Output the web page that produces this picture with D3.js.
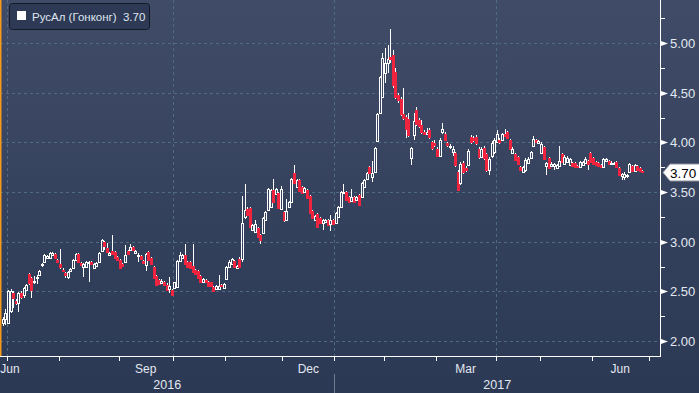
<!DOCTYPE html>
<html><head><meta charset="utf-8">
<script src="https://cdn.jsdelivr.net/npm/d3@7"></script>
<style>html,body{margin:0;padding:0;background:#2c3954;overflow:hidden}</style>
</head><body><svg id="c" width="699" height="393"></svg>
<script>
// ---- data ----
const seriesName = "РусАл (Гонконг)";
const lastLabel = "3.70";
const startDate = "2016-06-29";
const axisEndDate = "2017-06-30";
const holidays = ["2016-07-01","2016-09-16","2016-10-10","2016-12-26","2016-12-27","2017-01-02","2017-01-30","2017-01-31","2017-04-04","2017-04-14","2017-04-17","2017-05-01","2017-05-03","2017-05-30"];
const yTickValues = [2.0, 2.5, 3.0, 3.5, 4.0, 4.5, 5.0];
const yMinorValues = [2.25, 2.75, 3.25, 3.75, 4.25, 4.75, 5.25];
const monthNames = ["Jan","Feb","Mar","Apr","May","Jun","Jul","Aug","Sep","Oct","Nov","Dec"];
const labelledMonths = [2, 5, 8, 11];

const opens = [2.18,2.22,
2.18,2.30,2.48,2.40,2.38,2.48,2.46,2.51,2.68,2.64,2.60,2.64,2.67,2.77,2.80,2.84,2.84,2.87,2.88,2.82,
2.78,2.72,2.69,2.65,2.71,2.74,2.82,2.88,2.79,2.75,2.75,2.79,2.80,2.74,2.76,2.80,2.91,3.00,2.94,2.87,2.91,2.90,2.85,
2.82,2.78,2.80,2.91,2.92,2.95,2.89,2.86,2.86,2.81,2.77,2.90,2.84,2.75,2.66,2.62,2.58,2.60,2.56,2.52,2.51,
2.53,2.54,2.81,2.84,2.87,2.80,2.80,2.76,2.72,2.71,2.66,2.60,2.62,2.60,2.59,2.54,2.52,2.52,2.56,2.53,
2.63,2.75,2.78,2.81,2.74,2.83,2.83,3.25,3.33,3.34,3.12,3.10,3.14,3.07,3.09,3.22,3.32,3.35,3.52,3.48,3.49,3.33,
3.30,3.22,3.35,3.40,3.69,3.55,3.62,3.55,3.50,3.52,3.46,3.31,3.22,3.28,3.24,3.19,3.20,3.22,3.18,3.22,
3.19,3.25,3.35,3.49,3.50,3.45,3.41,3.45,3.42,3.47,3.45,3.55,3.63,3.75,3.65,3.70,4.01,4.30,4.46,
4.70,4.80,4.86,4.88,4.71,4.48,4.44,4.29,4.26,4.24,3.84,4.07,4.33,4.23,4.18,4.11,4.09,4.13,4.00,3.99,
3.93,3.86,4.11,4.09,3.99,3.95,3.90,3.89,3.70,3.59,3.79,3.74,3.77,4.05,4.04,4.05,3.93,3.85,3.94,3.88,3.72,3.86,3.90,
4.00,4.02,4.02,4.08,4.11,4.02,3.89,3.88,3.85,3.75,3.70,3.72,3.79,3.84,3.96,4.02,3.99,
3.89,3.95,3.76,3.84,3.76,3.76,3.74,3.76,3.88,3.78,3.80,3.77,3.79,3.79,3.76,3.75,3.77,3.79,3.81,3.89,
3.84,3.80,3.79,3.77,3.75,3.81,3.81,3.785,3.785,3.80,3.74,3.66,3.65,3.66,3.70,3.76,3.71,3.76,3.74,3.71];
const highs = [2.24,2.32,
2.51,2.52,2.50,2.42,2.49,2.50,2.54,2.57,2.69,2.65,2.66,2.67,2.72,2.79,2.88,2.87,2.90,2.90,2.89,2.83,
2.93,2.74,2.70,2.71,2.74,2.83,2.89,2.89,2.80,2.79,2.81,2.81,2.81,2.79,2.80,2.90,3.03,3.01,2.99,2.90,3.07,2.91,2.86,
2.83,2.79,2.97,2.92,2.98,2.96,2.92,2.89,2.87,2.82,2.89,2.91,2.85,2.76,2.67,2.63,2.63,2.61,2.58,2.65,2.52,
2.60,2.82,2.90,2.88,2.98,2.81,2.81,2.98,2.73,2.72,2.67,2.64,2.63,2.61,2.60,2.55,2.56,2.67,2.57,2.58,
2.76,2.82,2.84,2.82,2.77,2.85,3.46,3.58,3.35,3.35,3.18,3.22,3.15,3.08,3.25,3.31,3.54,3.53,3.63,3.54,3.50,3.56,
3.31,3.43,3.41,3.64,3.77,3.63,3.63,3.56,3.55,3.53,3.47,3.32,3.27,3.29,3.25,3.23,3.23,3.23,3.27,3.23,
3.30,3.36,3.51,3.58,3.51,3.46,3.53,3.46,3.46,3.48,3.60,3.63,3.70,3.76,3.81,3.95,4.30,4.67,4.90,
4.95,4.98,5.14,4.93,4.75,4.50,4.46,4.55,4.28,4.30,3.95,4.30,4.36,4.25,4.23,4.13,4.15,4.15,4.01,4.02,
3.95,4.04,4.20,4.11,4.00,3.98,3.96,3.90,3.72,3.80,3.81,3.76,3.93,4.07,4.06,4.07,3.95,3.95,3.96,3.89,3.85,4.01,4.04,
4.13,4.04,4.10,4.14,4.12,4.03,3.95,3.89,3.86,3.76,3.76,3.84,3.85,3.91,4.06,4.03,4.02,
4.00,3.96,3.80,3.85,3.80,3.79,3.78,3.96,3.89,3.87,3.86,3.84,3.80,3.80,3.77,3.81,3.81,3.85,3.82,3.90,
3.85,3.81,3.80,3.78,3.84,3.84,3.82,3.81,3.80,3.81,3.75,3.69,3.70,3.68,3.79,3.77,3.78,3.77,3.75,3.72];
const lows = [2.15,2.16,
2.17,2.28,2.33,2.36,2.29,2.42,2.43,2.50,2.56,2.43,2.57,2.57,2.66,2.75,2.79,2.83,2.83,2.86,2.83,2.79,
2.73,2.70,2.64,2.63,2.70,2.73,2.81,2.79,2.76,2.65,2.74,2.60,2.77,2.73,2.75,2.79,2.90,2.92,2.89,2.86,2.87,2.83,2.81,
2.73,2.75,2.79,2.87,2.91,2.91,2.88,2.80,2.82,2.78,2.71,2.81,2.77,2.63,2.55,2.56,2.57,2.55,2.50,2.48,2.45,
2.52,2.53,2.80,2.83,2.77,2.74,2.73,2.69,2.67,2.63,2.58,2.59,2.59,2.54,2.54,2.49,2.51,2.51,2.54,2.52,
2.62,2.74,2.77,2.74,2.73,2.74,2.80,3.23,3.26,3.14,3.11,3.09,3.04,2.98,3.08,3.21,3.31,3.34,3.39,3.47,3.33,3.32,
3.20,3.21,3.34,3.39,3.58,3.54,3.50,3.48,3.49,3.43,3.28,3.23,3.21,3.14,3.18,3.12,3.19,3.16,3.11,3.17,
3.18,3.24,3.34,3.48,3.41,3.39,3.40,3.39,3.41,3.36,3.44,3.54,3.62,3.68,3.60,3.69,4.00,4.29,4.45,
4.60,4.70,4.80,4.55,4.44,4.40,4.27,4.23,4.04,4.05,3.77,4.02,4.17,4.15,4.09,4.08,4.08,4.03,3.92,3.95,
3.85,3.85,4.09,4.01,3.95,3.93,3.86,3.75,3.51,3.57,3.68,3.70,3.76,3.98,4.00,3.97,3.83,3.84,3.82,3.70,3.67,3.84,3.88,
3.99,3.98,4.01,4.05,4.03,3.92,3.88,3.81,3.77,3.71,3.69,3.70,3.78,3.83,3.95,3.99,3.98,
3.88,3.82,3.67,3.73,3.75,3.72,3.73,3.75,3.79,3.77,3.79,3.76,3.75,3.74,3.74,3.74,3.76,3.78,3.72,3.79,
3.77,3.76,3.75,3.74,3.74,3.80,3.77,3.77,3.78,3.74,3.66,3.62,3.62,3.64,3.69,3.70,3.70,3.71,3.70,3.69];
const closes = [2.22,2.28,
2.50,2.50,2.43,2.38,2.48,2.44,2.53,2.56,2.58,2.51,2.61,2.65,2.71,2.78,2.87,2.86,2.89,2.89,2.84,2.80,
2.75,2.71,2.67,2.70,2.73,2.82,2.88,2.80,2.77,2.78,2.80,2.80,2.78,2.78,2.79,2.89,3.02,2.96,2.90,2.89,2.88,2.84,2.82,
2.74,2.76,2.87,2.88,2.95,2.92,2.91,2.87,2.83,2.79,2.88,2.82,2.78,2.64,2.56,2.57,2.61,2.56,2.51,2.55,2.46,
2.59,2.81,2.87,2.87,2.78,2.75,2.74,2.70,2.68,2.64,2.59,2.63,2.60,2.55,2.55,2.50,2.55,2.55,2.55,2.57,
2.75,2.80,2.83,2.75,2.76,2.75,3.19,3.32,3.27,3.15,3.17,3.18,3.05,3.02,3.24,3.30,3.53,3.52,3.40,3.53,3.34,3.53,
3.22,3.31,3.40,3.63,3.59,3.62,3.51,3.49,3.54,3.44,3.29,3.24,3.26,3.15,3.19,3.22,3.22,3.17,3.22,3.18,
3.29,3.35,3.50,3.50,3.42,3.40,3.45,3.40,3.45,3.37,3.59,3.62,3.69,3.69,3.69,3.94,4.29,4.66,4.85,
4.80,4.84,4.84,4.58,4.46,4.43,4.29,4.25,4.14,4.07,3.94,4.22,4.19,4.17,4.11,4.09,4.11,4.05,3.94,3.97,
3.86,4.02,4.14,4.02,3.97,3.96,3.93,3.77,3.52,3.78,3.70,3.72,3.91,4.00,4.02,3.99,3.85,3.93,3.84,3.72,3.83,3.99,4.02,
4.09,4.00,4.08,4.06,4.04,3.93,3.93,3.82,3.78,3.72,3.75,3.82,3.83,3.90,4.03,4.00,4.01,
3.98,3.83,3.79,3.74,3.78,3.78,3.77,3.81,3.80,3.85,3.84,3.83,3.76,3.75,3.75,3.80,3.80,3.83,3.78,3.80,
3.78,3.77,3.76,3.75,3.83,3.83,3.78,3.79,3.79,3.75,3.67,3.68,3.68,3.67,3.78,3.71,3.77,3.72,3.71,3.70];

// ---- trading calendar ----
const hol = new Set(holidays);
const dates = [];
for (let d = new Date(startDate + "T00:00:00Z"); d <= new Date(axisEndDate + "T00:00:00Z"); d.setUTCDate(d.getUTCDate() + 1)) {
  const wd = d.getUTCDay();
  const s = d.toISOString().slice(0, 10);
  if (wd > 0 && wd < 6 && !hol.has(s)) dates.push(s);
}
const candles = closes.map((c, i) => ({i, o: opens[i], h: highs[i], l: lows[i], c}));

// ---- layout ----
const W = 699, H = 393, plotR = 660, plotB = 356;
const svg = d3.select("#c");
const x = d3.scaleLinear().domain([0, candles.length - 1]).range([2.8, 642.4]);
const y = d3.scaleLinear().domain([1.85, 5.434]).range([plotB, 0]);

const defs = svg.append("defs");
const g = defs.append("linearGradient").attr("id", "bg").attr("x1", 0).attr("y1", 0).attr("x2", 0).attr("y2", 1);
[[0, "#3f4b67"], [0.3, "#3a4662"], [0.6, "#33405b"], [1, "#2c3954"]].forEach(([o, c]) => g.append("stop").attr("offset", o).attr("stop-color", c));
defs.append("clipPath").attr("id", "clip").append("rect").attr("x", 0).attr("y", 0).attr("width", plotR).attr("height", plotB);

svg.append("rect").attr("width", W).attr("height", H).attr("fill", "url(#bg)");

// month boundaries
const bounds = [];
for (let i = 1; i < dates.length; i++) {
  if (dates[i].slice(5, 7) !== dates[i - 1].slice(5, 7)) bounds.push({i, m: +dates[i].slice(5, 7) - 1, yr: +dates[i].slice(0, 4)});
}
const gridCol = "#4f6b84";

// horizontal grid
svg.append("g").selectAll("line").data(yTickValues).join("line")
  .attr("x1", 0).attr("x2", plotR).attr("y1", d => Math.round(y(d)) + 0.5).attr("y2", d => Math.round(y(d)) + 0.5)
  .attr("stroke", gridCol).attr("stroke-width", 1).attr("stroke-dasharray", "3,3");
// vertical quarter grid
const qb = bounds.filter(b => b.m % 3 === 0);
svg.append("g").selectAll("line").data(qb).join("line")
  .attr("x1", b => Math.round(x(b.i - 0.5)) + 0.5).attr("x2", b => Math.round(x(b.i - 0.5)) + 0.5)
  .attr("y1", 0).attr("y2", plotB)
  .attr("stroke", gridCol).attr("stroke-width", 1).attr("stroke-dasharray", "3,3");

// candles
const cg = svg.append("g").attr("clip-path", "url(#clip)");
const red = "#f0243f";
candles.forEach(d => {
  const cx = Math.round(x(d.i));
  const yt = Math.round(y(Math.max(d.o, d.c)));
  const yb = Math.round(y(Math.min(d.o, d.c)));
  const yh = Math.round(y(d.h)), yl = Math.round(y(d.l));
  const up = d.c >= d.o;
  if (yh < yt) cg.append("line").attr("x1", cx + 0.5).attr("x2", cx + 0.5).attr("y1", yh).attr("y2", yt).attr("stroke", "#fff");
  if (yl > yb) cg.append("line").attr("x1", cx + 0.5).attr("x2", cx + 0.5).attr("y1", yb).attr("y2", yl).attr("stroke", "#fff");
  if (up) {
    cg.append("rect").attr("x", cx - 0.5).attr("y", yt + 0.5).attr("width", 2).attr("height", Math.max(1, yb - yt))
      .attr("fill", "none").attr("stroke", "#fff").attr("stroke-width", 1);
  } else {
    cg.append("rect").attr("x", cx - 1).attr("y", yt).attr("width", 3).attr("height", Math.max(1, yb - yt + 1))
      .attr("fill", red);
  }
});

// axes lines
svg.append("line").attr("x1", plotR + 0.5).attr("x2", plotR + 0.5).attr("y1", 0).attr("y2", plotB + 1).attr("stroke", "#fff");
svg.append("line").attr("x1", 0).attr("x2", plotR + 1).attr("y1", plotB + 0.5).attr("y2", plotB + 0.5).attr("stroke", "#fff");

// y ticks
const yt = svg.append("g");
yTickValues.forEach(v => {
  const yy = Math.round(y(v)) + 0.5;
  yt.append("path").attr("d", `M${plotR + 1},${yy - 2.5}L${plotR + 8},${yy}L${plotR + 1},${yy + 2.5}Z`).attr("fill", "#fff");
  yt.append("text").attr("x", 670).attr("y", yy + 4.5).text(v.toFixed(2))
    .attr("fill", "#e2e8f1").attr("font-family", "Liberation Sans, Arial, sans-serif").attr("font-size", 13);
});
yMinorValues.forEach(v => {
  const yy = Math.round(y(v)) + 0.5;
  yt.append("line").attr("x1", plotR).attr("x2", plotR + 5).attr("y1", yy).attr("y2", yy).attr("stroke", "#fff");
});

// x ticks & labels
const xt = svg.append("g");
bounds.concat([{i: dates.length, m: 6, yr: 2017}]).forEach(b => {
  const xx = Math.round(x(b.i - 0.5)) + 0.5;
  xt.append("line").attr("x1", xx).attr("x2", xx).attr("y1", plotB).attr("y2", plotB + 5).attr("stroke", "#fff");
});
const segs = [{s: -0.5, m: +dates[0].slice(5, 7) - 1}];
bounds.forEach(b => segs.push({s: b.i - 0.5, m: b.m}));
segs.forEach((sg, k) => { sg.e = k + 1 < segs.length ? segs[k + 1].s : dates.length - 0.5; });
segs.filter(sg => labelledMonths.includes(sg.m)).forEach(sg => {
  let cx = (x(sg.s) + x(sg.e)) / 2;
  cx = Math.max(cx, 10);
  xt.append("text").attr("x", cx).attr("y", 373).attr("text-anchor", "middle").text(monthNames[sg.m])
    .attr("fill", "#e2e8f1").attr("font-family", "Liberation Sans, Arial, sans-serif").attr("font-size", 12);
});
const yb0 = bounds.find(b => b.m === 0);
const yearX = Math.round(x(yb0.i - 0.5)) + 0.5;
xt.append("line").attr("x1", yearX).attr("x2", yearX).attr("y1", 374).attr("y2", H).attr("stroke", "#6f7a8e");
[["2016", 0, yearX], ["2017", yearX, plotR]].forEach(([t, a, b]) => {
  xt.append("text").attr("x", (a + b) / 2).attr("y", 389).attr("text-anchor", "middle").text(t)
    .attr("fill", "#e2e8f1").attr("font-family", "Liberation Sans, Arial, sans-serif").attr("font-size", 12.5);
});

// orange left edge
svg.append("rect").attr("x", 0).attr("y", 0).attr("width", 1.5).attr("height", plotB).attr("fill", "#f59a1b");

// legend
const lg = svg.append("g");
lg.append("rect").attr("x", 9.5).attr("y", 3.5).attr("width", 140).attr("height", 26).attr("rx", 3)
  .attr("fill", "#2e3a55").attr("stroke", "#141a26").attr("stroke-width", 1);
lg.append("rect").attr("x", 17).attr("y", 11).attr("width", 9).attr("height", 9).attr("fill", "#fff");
lg.append("text").attr("x", 32).attr("y", 20.5).attr("xml:space", "preserve").style("white-space", "pre")
  .text(seriesName + "  " + lastLabel)
  .attr("fill", "#dfe5ee").attr("font-family", "Liberation Sans, Arial, sans-serif").attr("font-size", 11.5);

// last price tag
const ly = Math.round(y(closes[closes.length - 1])) + 0.5;
svg.append("path").attr("d", `M663,${ly}L670,${ly - 8.5}L700,${ly - 8.5}L700,${ly + 8.5}L670,${ly + 8.5}Z`)
  .attr("fill", "#fff").attr("stroke", "#8a8f99").attr("stroke-width", 1);
svg.append("text").attr("x", 670).attr("y", ly + 5).text(lastLabel).attr("fill", "#000")
  .attr("font-family", "Liberation Sans, Arial, sans-serif").attr("font-size", 13.5);
</script></body></html>
